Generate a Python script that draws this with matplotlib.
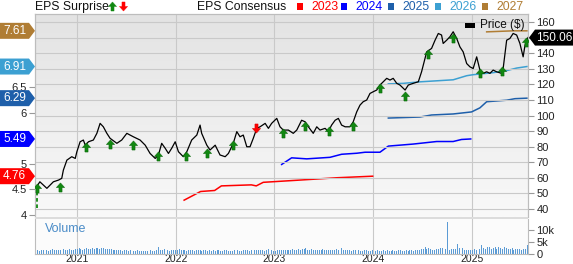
import numpy as np
import pandas as pd
import matplotlib
matplotlib.use('Agg')
import matplotlib.pyplot as plt
from matplotlib.path import Path
from matplotlib.patches import Polygon, Rectangle
from matplotlib.colors import LinearSegmentedColormap
from matplotlib.transforms import IdentityTransform

W, H = 573, 264

# ---- price (right axis) ----
price_dates = [
    '2020-08-04', '2020-08-16', '2020-08-29', '2020-09-11', '2020-10-05', '2020-10-24',
    '2020-11-05', '2020-11-11', '2020-11-24', '2020-12-12', '2020-12-25', '2020-12-31',
    '2021-01-12', '2021-01-24', '2021-01-31', '2021-02-12', '2021-03-02', '2021-03-15',
    '2021-03-27', '2021-04-08', '2021-04-21', '2021-05-03', '2021-05-28', '2021-06-15',
    '2021-07-04', '2021-07-28', '2021-08-22', '2021-09-10', '2021-09-28', '2021-10-17',
    '2021-10-29', '2021-11-10', '2021-11-23', '2021-12-05', '2021-12-17', '2021-12-30',
    '2022-01-11', '2022-01-29', '2022-02-11', '2022-03-01', '2022-03-20', '2022-04-01',
    '2022-04-07', '2022-04-26', '2022-05-08', '2022-05-27', '2022-06-14', '2022-07-03',
    '2022-07-15', '2022-08-02', '2022-08-15', '2022-08-27', '2022-09-08', '2022-09-21',
    '2022-10-03', '2022-10-15', '2022-10-28', '2022-11-09', '2022-11-28', '2022-12-10',
    '2022-12-22', '2023-01-10', '2023-01-22', '2023-02-03', '2023-02-22', '2023-03-12',
    '2023-03-25', '2023-04-12', '2023-04-25', '2023-05-07', '2023-05-25', '2023-06-07',
    '2023-06-19', '2023-07-08', '2023-07-20', '2023-08-01', '2023-08-14', '2023-08-26',
    '2023-09-07', '2023-09-20', '2023-10-08', '2023-10-20', '2023-11-02', '2023-11-14',
    '2023-11-26', '2023-12-09', '2023-12-21', '2024-01-02', '2024-01-15', '2024-01-27',
    '2024-02-08', '2024-02-21', '2024-03-04', '2024-03-16', '2024-03-29', '2024-04-10',
    '2024-04-29', '2024-05-11', '2024-05-29', '2024-06-17', '2024-06-29', '2024-07-12',
    '2024-07-18', '2024-08-05', '2024-08-18', '2024-08-30', '2024-09-11', '2024-09-17',
    '2024-09-30', '2024-10-12', '2024-10-24', '2024-11-06', '2024-11-18', '2024-11-30',
    '2024-12-13', '2024-12-25', '2025-01-06', '2025-01-19', '2025-01-31', '2025-02-12',
    '2025-02-25', '2025-03-09', '2025-03-21', '2025-04-03', '2025-04-21', '2025-04-27',
    '2025-05-04', '2025-05-10', '2025-05-22', '2025-06-03', '2025-06-16', '2025-06-28',
    '2025-07-10', '2025-07-17', '2025-07-23', '2025-07-28',
]
price_values = [
    54.3, 57.5, 55.4, 53.3, 57.5, 58.6,
    59.7, 65.0, 71.4, 73.6, 72.5, 76.8,
    83.2, 84.3, 81.0, 83.2, 84.3, 88.6,
    95.0, 92.8, 88.6, 85.4, 82.2, 84.3,
    88.6, 86.4, 84.3, 81.0, 75.7, 72.5,
    74.7, 82.2, 79.0, 75.7, 79.0, 83.2,
    76.8, 73.6, 76.8, 84.3, 87.5, 93.9,
    88.6, 81.0, 77.9, 81.0, 74.7, 73.6,
    75.7, 82.2, 89.7, 86.4, 87.5, 80.0,
    80.0, 85.4, 91.8, 92.8, 95.0, 91.8,
    95.0, 98.2, 92.8, 90.7, 90.7, 88.6,
    90.7, 97.0, 96.0, 92.8, 88.6, 92.8,
    90.7, 91.8, 89.7, 93.9, 97.0, 98.2,
    93.9, 92.8, 92.8, 96.0, 102.4, 106.7,
    108.9, 110.0, 114.2, 115.3, 116.4, 119.6,
    121.7, 123.9, 122.8, 123.9, 120.7, 119.6,
    116.4, 119.6, 120.7, 121.7, 128.1, 136.7,
    140.9, 143.1, 148.4, 152.7, 151.7, 146.3,
    148.4, 150.6, 153.8, 149.5, 144.1, 140.9,
    133.4, 131.3, 130.2, 137.7, 129.2, 127.1,
    128.1, 127.1, 129.2, 128.1, 127.1, 130.2,
    139.9, 148.4, 149.5, 152.7, 151.7, 146.3,
    137.7, 145.2, 148.4, 150.06,
]
last_price = 150.06

# ---- EPS consensus (left axis) ----
eps_2023_dates = ['2022-02-01', '2022-04-03', '2022-05-25', '2022-06-19', '2022-10-08',
                  '2022-10-26', '2022-11-21', '2023-02-22', '2023-08-23', '2023-12-31']
eps_2023 = [4.29, 4.46, 4.48, 4.57, 4.59, 4.57, 4.64, 4.67, 4.73, 4.76]

eps_2024_dates = ['2023-01-28', '2023-03-06', '2023-05-01', '2023-07-26', '2023-09-07',
                  '2023-11-02', '2023-12-03', '2024-01-27', '2024-02-27', '2024-05-29',
                  '2024-08-24', '2024-10-24', '2024-11-24', '2024-12-28']
eps_2024 = [4.99, 5.12, 5.10, 5.13, 5.19, 5.21, 5.23, 5.23, 5.35, 5.39, 5.44, 5.44, 5.48, 5.49]

eps_2025_dates = ['2024-02-27', '2024-06-23', '2024-08-05', '2024-10-24', '2024-12-31',
                  '2025-01-31', '2025-02-25', '2025-05-10', '2025-06-10', '2025-07-24']
eps_2025 = [5.90, 5.92, 5.96, 5.98, 6.02, 6.10, 6.22, 6.25, 6.28, 6.29]

eps_2026_dates = ['2024-02-27', '2024-04-22', '2024-06-23', '2024-10-24', '2024-12-13',
                  '2025-01-06', '2025-03-21', '2025-05-10', '2025-06-16', '2025-07-24']
eps_2026 = [6.57, 6.58, 6.61, 6.65, 6.73, 6.75, 6.79, 6.83, 6.88, 6.91]

eps_2027_dates = ['2025-02-25', '2025-06-03', '2025-07-24']
eps_2027 = [7.59, 7.61, 7.61]

eps_years = ['2023', '2024', '2025', '2026', '2027']
eps_last = ['4.76', '5.49', '6.29', '6.91', '7.61']
eps_colors = ['#ff0000', '#0000ff', '#1e5faa', '#3ca0d2', '#b07d34']

# ---- EPS surprise arrows (placed on price) ----
beat_dates = ['2020-08-04', '2020-10-30', '2021-02-03', '2021-05-01', '2021-07-28',
              '2021-10-26', '2022-02-08', '2022-04-27', '2022-07-31', '2023-02-01',
              '2023-04-25', '2023-07-24', '2023-10-21', '2024-01-27', '2024-04-29',
              '2024-07-22', '2024-10-22', '2025-01-31', '2025-04-24', '2025-07-20']
beat_prices = [53.5, 54.1, 79.8, 81.7, 81.1, 74.0, 74.0, 76.3, 81.1, 88.8,
               93.3, 90.4, 93.6, 117.5, 112.5, 139.5, 149.6, 127.5, 128.8, 147.0]
miss_dates = ['2022-10-25']
miss_prices = [91.8]

# ---- weekly volume (thousands), one row per quarter ----
volume_k = [
    1.5, 1.7, 1.4, 1.6, 1.8, 1.5, 1.6, 1.4, 1.7, 1.9, 1.5, 1.6, 1.8,
    1.7, 1.6, 1.9, 1.5, 1.8, 2.0, 1.7, 1.6, 2.2, 1.9, 2.4, 2.1, 1.8,
    2.0, 2.3, 1.9, 2.2, 2.5, 2.1, 2.4, 2.6, 2.2, 2.5, 2.3, 2.0, 2.2,
    1.9, 2.1, 1.7, 1.6, 1.8, 1.5, 1.6, 1.4, 1.5, 1.7, 1.4, 1.5, 1.6,
    1.4, 1.3, 1.5, 1.2, 1.4, 1.3, 1.2, 1.4, 1.3, 1.5, 1.2, 1.4, 1.6,
    3.0, 1.8, 1.6, 1.9, 1.5, 1.7, 1.4, 1.6, 1.8, 1.5, 1.7, 2.0, 1.6,
    1.5, 1.7, 1.4, 1.6, 1.8, 1.5, 1.4, 1.6, 1.5, 1.7, 1.4, 1.5, 1.6,
    1.4, 1.5, 1.3, 1.6, 1.4, 1.5, 1.7, 1.3, 1.4, 1.6, 1.5, 1.3, 1.4,
    1.3, 1.5, 1.4, 1.6, 1.3, 1.4, 1.5, 1.8, 1.6, 1.4, 1.5, 1.7, 1.6,
    1.8, 1.6, 1.5, 1.7, 1.4, 1.6, 2.0, 2.7, 1.5, 1.3, 1.4, 1.5, 1.6,
    1.5, 1.7, 1.6, 1.8, 1.5, 1.7, 1.9, 1.6, 1.8, 2.0, 1.7, 1.9, 2.1,
    2.4, 1.8, 1.6, 1.9, 1.7, 1.5, 1.8, 1.6, 1.7, 1.9, 1.6, 1.8, 1.7,
    1.6, 1.8, 1.7, 1.9, 1.6, 2.1, 2.4, 1.7, 1.5, 1.8, 1.6, 1.4, 1.5,
    1.6, 1.4, 1.5, 1.3, 1.4, 1.6, 1.5, 1.3, 1.4, 1.5, 1.6, 1.4, 1.5,
    1.4, 1.3, 1.5, 1.4, 1.6, 1.3, 1.4, 1.5, 1.3, 1.4, 1.6, 1.5, 1.4,
    1.3, 1.5, 1.4, 1.6, 1.5, 1.4, 1.7, 1.5, 1.6, 1.9, 2.2, 2.7, 2.0,
    2.3, 2.0, 1.8, 1.6, 1.9, 2.1, 2.3, 2.5, 2.4, 2.2, 13.3, 1.8, 2.0,
    2.2, 2.0, 4.0, 2.5, 1.8, 2.6, 1.6, 1.5, 1.8, 1.6, 1.7, 1.9, 1.6,
    1.8, 2.0, 3.7, 2.4, 2.0, 2.7, 3.0, 2.2, 2.6, 2.8, 2.0, 2.9, 2.4,
    2.1, 2.7, 2.3, 1.9, 2.0, 2.6, 1.8, 2.0, 1.9, 2.1, 1.8, 2.0, 1.9,
    3.6,
]
volume_dates = pd.date_range('2020-07-31', periods=len(volume_k), freq='W-FRI')

year_ticks = ['2021', '2022', '2023', '2024', '2025']
price_ticks = list(range(40, 161, 10))
eps_ticks = [4, 4.5, 5, 6, 6.5]

plt.rcParams['font.family'] = ['Liberation Sans', 'DejaVu Sans']

fig = plt.figure(figsize=(W / 100, H / 100), dpi=100)
L, R = 35, 528
main_top, main_bot, vol_top, vol_bot = 14, 217, 219, 254
ax_eps = fig.add_axes([L / W, 1 - main_bot / H, (R - L) / W, (main_bot - main_top) / H])
ax = ax_eps.twinx()
ax_vol = fig.add_axes([L / W, 1 - vol_bot / H, (R - L) / W, (vol_bot - vol_top) / H], sharex=ax_eps)
fig.add_artist(Rectangle((L / W, 1 - vol_top / H), (R - L) / W, (vol_top - main_bot) / H,
                         color='#dcdcdc', lw=0))

xlim = (pd.Timestamp('2020-07-29'), pd.Timestamp('2025-07-28'))
grid_c = '#c9c9c9'
spine_c = '#bdbdbd'

# background gradient
grad = LinearSegmentedColormap.from_list('bg', ['#e3e3e3', '#f9f9f9'])
ax_eps.imshow(np.linspace(0, 1, 200).reshape(-1, 1), cmap=grad, aspect='auto',
              extent=[0, 1, 0, 1], transform=ax_eps.transAxes, zorder=0)
ax_vol.set_facecolor('#fbfbfb')

# EPS consensus lines
eps_series = [(eps_2023_dates, eps_2023), (eps_2024_dates, eps_2024), (eps_2025_dates, eps_2025),
              (eps_2026_dates, eps_2026), (eps_2027_dates, eps_2027)]
for (d, v), c in zip(eps_series, eps_colors):
    ax_eps.plot(pd.to_datetime(d), v, color=c, lw=1.1, zorder=2)

# price line
ax.plot(pd.to_datetime(price_dates), price_values, color='black', lw=0.9, zorder=3)

# surprise arrows
up = Path([(-0.17, -0.5), (0.17, -0.5), (0.17, 0.0), (0.45, 0.0), (0.0, 0.5),
           (-0.45, 0.0), (-0.17, 0.0), (-0.17, -0.5)])
down = Path([(x, -y) for x, y in up.vertices])
ax.vlines(pd.Timestamp(beat_dates[0]), 40.5, 52, colors='#118811', linestyles=(0, (2, 1.5)),
          lw=1.3, zorder=4)
ax.plot(pd.to_datetime(beat_dates), beat_prices, ls='none', marker=up, ms=6.5,
        mfc='#118811', mec='#0a6a0a', mew=0.4, zorder=5)
ax.plot(pd.to_datetime(miss_dates), miss_prices, ls='none', marker=down, ms=6.5,
        mfc='#ff0000', mec='#dd0000', mew=0.4, zorder=5)

# volume bars
ax_vol.bar(volume_dates, volume_k, width=3.5, color='#5b9bd5', lw=0)

# axes setup
years = pd.to_datetime([y + '-01-01' for y in year_ticks])
ax_eps.set_xlim(xlim)
ax_eps.set_ylim(3.96, 7.94)
ax.set_ylim(34.9, 165.2)
ax_vol.set_ylim(0, 14.4)

ax_eps.set_yticks(eps_ticks)
ax_eps.set_yticklabels([f'{t:g}' for t in eps_ticks])
ax.set_yticks(price_ticks)
# the 150 label sits under the last-price tag
ax.set_yticklabels(['' if t == 150 else str(t) for t in price_ticks])
ax_vol.set_yticks([0, 5, 10])
ax_vol.set_yticklabels(['0', '5k', '10k'])
ax_vol.yaxis.tick_right()
ax_vol.set_xticks(years)
ax_vol.set_xticklabels(year_ticks)

for a in (ax_eps, ax, ax_vol):
    a.tick_params(axis='both', labelsize=8, colors='#222222', length=4, width=0.8, pad=2)
    a.tick_params(axis='x', length=0)
    for s in a.spines.values():
        s.set_color(spine_c)
        s.set_linewidth(0.8)
ax_eps.tick_params(axis='y', color='#999999')
ax.tick_params(axis='y', color='#999999')
ax_vol.tick_params(axis='y', color='#999999')
ax_vol.tick_params(axis='x', labelsize=7.5, pad=0)
ax_eps.tick_params(axis='x', labelbottom=False)
ax.tick_params(axis='x', labelbottom=False)
ax_eps.spines['bottom'].set_visible(False)
ax.spines['bottom'].set_visible(False)
ax_vol.spines['top'].set_visible(False)

ax.grid(True, axis='y', color=grid_c, lw=0.8, zorder=1)
ax_eps.set_xticks(years)
ax_eps.grid(True, axis='x', color=grid_c, lw=0.8)
ax_vol.grid(True, axis='x', color=grid_c, lw=0.8)
ax_vol.set_axisbelow(True)

ax_vol.text(0.02, 0.72, 'Volume', transform=ax_vol.transAxes, fontsize=9, color='#4a8cc8',
            va='center')

# top legend
fig.text(L / W, 1 - 7 / H, 'EPS Surprise', fontsize=8.8, color='#111111', va='center')
fig.text(197 / W, 1 - 7 / H, 'EPS Consensus', fontsize=8.8, color='#111111', va='center')
leg_x = [297, 341, 388, 435, 482]
for x0, yr, c in zip(leg_x, eps_years, eps_colors):
    fig.add_artist(Rectangle((x0 / W, 1 - 10 / H), 6 / W, 7 / H, color=c, lw=0))
    fig.text((x0 + 14) / W, 1 - 7 / H, yr, fontsize=8.8, color=c, va='center')
fig.canvas.draw()
for xc, mk, c in [(111.5, up, '#118811'), (122.5, down, '#ff0000')]:
    fig.add_artist(plt.Line2D([xc / W], [1 - 6 / H], marker=mk, ms=6.5, mfc=c, mec=c,
                              mew=0.3, ls='none'))

# price legend inside chart
fig.add_artist(Rectangle((465 / W, 1 - 28 / H), 10 / W, 5 / H, color='black', lw=0))
fig.text(480 / W, 1 - 25 / H, 'Price ($)', fontsize=8.5, color='#111111', va='center')


def tag(x_body0, x_body1, x_tip, yc, h, color, label, tx):
    if x_tip > x_body1:
        pts = [(x_body0, yc - h / 2), (x_body1, yc - h / 2), (x_tip, yc),
               (x_body1, yc + h / 2), (x_body0, yc + h / 2)]
    else:
        pts = [(x_body1, yc - h / 2), (x_body0, yc - h / 2), (x_tip, yc),
               (x_body0, yc + h / 2), (x_body1, yc + h / 2)]
    pts = [(x, H - y) for x, y in pts]
    fig.add_artist(Polygon(pts, closed=True, color=color, lw=0, transform=IdentityTransform()))
    fig.text(tx / W, 1 - yc / H, label, fontsize=8.5, color='white', va='center', ha='left')


# left tags with last EPS values
eps_last_vals = [eps_2023[-1], eps_2024[-1], eps_2025[-1], eps_2026[-1], eps_2027[-1]]
for v, lab, c in zip(eps_last_vals, eps_last, eps_colors):
    yc = H - ax_eps.transData.transform((0, v))[1]
    tag(0, 29, 35, yc, 16, c, lab, 3)

# right tag with last price
yc = H - ax.transData.transform((0, last_price))[1]
tag(535, 573, 529, yc, 16, 'black', f'{last_price:.2f}', 536)

fig.savefig('out.png', dpi=100)
